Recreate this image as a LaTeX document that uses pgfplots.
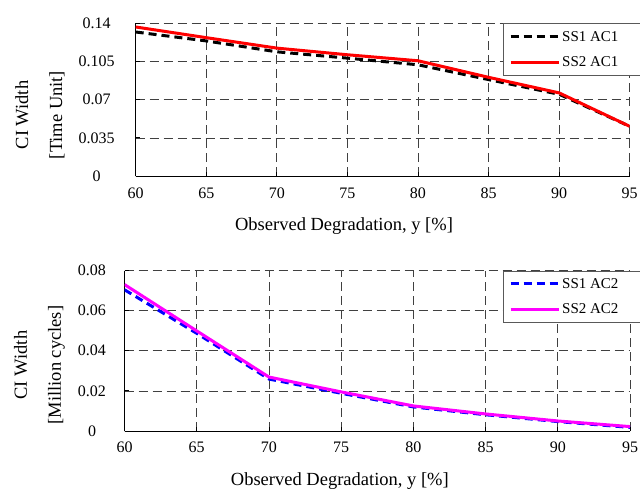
\documentclass[border=0pt]{standalone}
\usepackage{fontspec}
\setmainfont{Liberation Serif}
\usepackage{pgfplots}
\pgfplotsset{compat=1.18}
\definecolor{cRed}{RGB}{255,0,0}
\definecolor{cBlue}{RGB}{0,0,255}
\definecolor{cMag}{RGB}{255,0,255}

\pgfplotstableread{
x ss1 ss2
60 0.1322 0.1368
65 0.1240 0.1270
70 0.1140 0.1174
75 0.1082 0.1113
80 0.1021 0.1058
85 0.0885 0.0906
90 0.0750 0.0763
95 0.0456 0.0456
}\topdata

\pgfplotstableread{
x ss1 ss2
60 0.0704 0.0730
65 0.0487 0.0499
70 0.0259 0.0269
75 0.0188 0.0195
80 0.0120 0.0125
85 0.0081 0.0085
90 0.0047 0.0050
95 0.0018 0.0022
}\botdata

\pgfplotsset{
  common/.style={
    scale only axis,
    xmin=60, xmax=95,
    xtick={60,65,...,95},
    scaled y ticks=false,
    axis x line*=bottom,
    axis y line*=left,
    axis line style={black, line width=0.9bp},
    tick style={black, line width=0.8bp},
    major tick length=4bp,
    grid=major,
    major grid style={black!75, line width=0.7bp, dash pattern=on 9bp off 5bp},
    /pgf/number format/assume math mode=true,
    ticklabel style={font=\fontsize{16bp}{19bp}\selectfont},
    xticklabel style={anchor=center},
    yticklabel style={anchor=center},
    every axis x label/.style={anchor=center, font=\fontsize{18.5bp}{22bp}\selectfont},
    every axis y label/.style={rotate=90, anchor=center, align=center, font=\fontsize{18.5bp}{34bp}\selectfont},
    legend cell align=left,
    legend image code/.code={\draw[##1] (0bp,0bp) -- (48bp,0bp);},
    legend style={draw=black!65, fill=white,
      font=\fontsize{15bp}{18bp}\selectfont,
      inner xsep=6bp, inner ysep=5.5bp, row sep=10bp,
      at={(rel axis cs:1,1)}, anchor=north west},
  }
}

\begin{document}
\begin{tikzpicture}
\useasboundingbox (0,0) rectangle (640bp,491bp);

\begin{axis}[common,
  at={(135.7bp,315bp)}, anchor=south west,
  width=494bp, height=152.5bp,
  ymin=0, ymax=0.14,
  ytick={0,0.035,0.07,0.105,0.14},
  yticklabels={0,0.035,0.07,0.105,0.14},
  xticklabel style={yshift=-17bp},
  yticklabel style={xshift=-39bp},
  xlabel={Observed Degradation, y [\%]},
  xlabel style={at={(axis description cs:0.4217,0)}, yshift=-50.5bp},
  ylabel={CI Width\\{[}Time Unit]},
  ylabel style={at={(axis description cs:-0.194,0.40)}},
  legend style={xshift=-126.7bp},
]
\addplot[black, line width=3bp, dash pattern=on 8bp off 5bp] table[x=x,y=ss1] {\topdata};
\addlegendentry{SS1 AC1\hspace*{30bp}}
\addplot[cRed, line width=3bp] table[x=x,y=ss2] {\topdata};
\addlegendentry{SS2 AC1\hspace*{30bp}}
\end{axis}

\begin{axis}[common,
  at={(124.5bp,60bp)}, anchor=south west,
  width=505.5bp, height=160.5bp,
  ymin=0, ymax=0.08,
  ytick={0,0.02,0.04,0.06,0.08},
  yticklabels={0,0.02,0.04,0.06,0.08},
  xticklabel style={yshift=-16bp},
  yticklabel style={xshift=-32.5bp},
  xlabel={Observed Degradation, y [\%]},
  xlabel style={at={(axis description cs:0.426,0)}, yshift=-50bp},
  ylabel={CI Width\\{[}Million cycles]},
  ylabel style={at={(axis description cs:-0.168,0.411)}},
  legend style={xshift=-127bp},
]
\addplot[cBlue, line width=3bp, dash pattern=on 8bp off 5bp] table[x=x,y=ss1] {\botdata};
\addlegendentry{SS1 AC2\hspace*{30bp}}
\addplot[cMag, line width=3bp] table[x=x,y=ss2] {\botdata};
\addlegendentry{SS2 AC2\hspace*{30bp}}
\end{axis}
\end{tikzpicture}
\end{document}
